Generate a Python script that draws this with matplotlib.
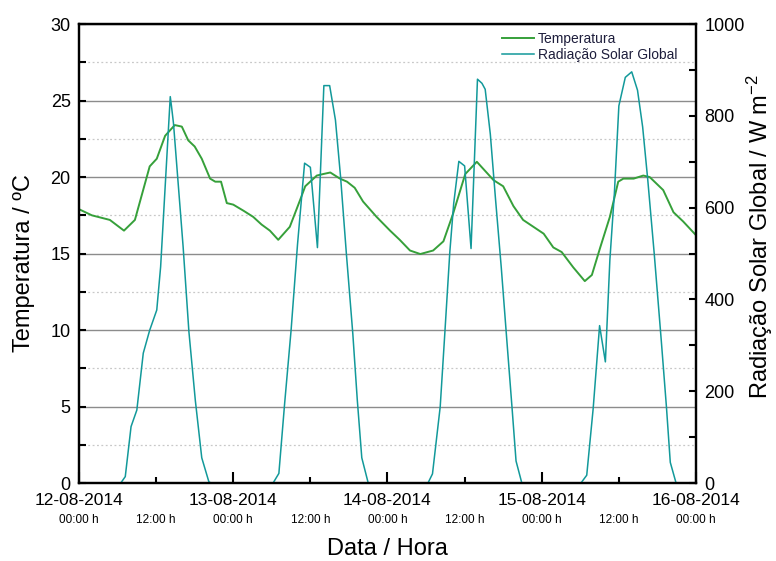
import matplotlib
matplotlib.use("Agg")
import matplotlib.pyplot as plt
from matplotlib.ticker import MultipleLocator

plt.rcParams['font.family'] = ['Liberation Sans', 'DejaVu Sans']
plt.rcParams['mathtext.default'] = 'regular'

# hours since 12-08-2014 00:00
temp_hours = [0, 2.0, 4.8, 7.0, 8.7, 11.0, 12.1, 13.4, 14.9, 16.0, 17.0, 18.0, 19.1, 20.4,
              21.2, 22.1, 23.0, 24.0, 25.6, 27.1, 28.4, 29.7, 31.0, 32.8, 34.4, 35.2, 37.0,
              38.0, 39.1, 40.6, 41.7, 42.9, 44.2, 46.3, 48.4, 49.9, 51.5, 53.1, 55.1, 56.7,
              58.2, 60.1, 61.9, 64.5, 66.0, 67.6, 69.1, 72.3, 73.8, 75.1, 76.9, 78.7, 79.8,
              81.1, 82.6, 83.9, 84.7, 86.3, 87.8, 88.8, 90.9, 92.5, 94.0, 96.0]
temperatura = [17.9, 17.5, 17.2, 16.5, 17.2, 20.7, 21.2, 22.7, 23.4, 23.3, 22.4, 22.0, 21.2, 19.9,
               19.7, 19.7, 18.3, 18.2, 17.8, 17.4, 16.9, 16.5, 15.9, 16.75, 18.5, 19.4, 20.1,
               20.2, 20.3, 19.9, 19.7, 19.3, 18.4, 17.4, 16.5, 15.9, 15.2, 14.97, 15.2, 15.8,
               17.6, 20.2, 21.0, 19.8, 19.4, 18.1, 17.2, 16.3, 15.4, 15.1, 14.1, 13.2, 13.6,
               15.4, 17.4, 19.7, 19.9, 19.9, 20.1, 20.0, 19.15, 17.7, 17.1, 16.2]

rad_hours = [0, 6.5, 7.2, 8.1, 9.0, 10.0, 11.0, 12.1, 12.7, 14.2, 14.4, 14.7, 16.2, 17.1, 18.1,
             19.1, 20.2, 20.5,
             30.2, 31.1, 32.0, 33.0, 34.0, 35.1, 36.0, 37.1, 38.1, 39.0, 39.9, 40.7, 41.6,
             42.6, 43.3, 44.0, 45.0,
             54.3, 55.0, 56.2, 56.9, 57.7, 58.3, 59.1, 60.0, 61.0, 62.0, 62.7, 63.2, 64.0,
             64.8, 65.7, 66.6, 67.4, 68.0, 68.9,
             78.1, 79.0, 80.0, 81.0, 81.9, 82.6, 83.3, 84.0, 85.0, 86.0, 86.9, 87.7, 88.5,
             89.5, 90.6, 91.4, 92.0, 92.9, 96.0]
radiacao = [0, 0, 14, 123, 159, 283, 333, 377, 471, 842, 820, 784, 515, 330, 180,
            55, 3, 0,
            0, 21, 174, 333, 520, 697, 688, 513, 866, 866, 791, 667, 500,
            326, 181, 55, 0,
            0, 20, 166, 322, 504, 609, 701, 691, 511, 880, 871, 858, 760,
            620, 470, 305, 160, 48, 0,
            0, 17, 162, 343, 264, 486, 631, 822, 884, 896, 856, 776, 660,
            500, 310, 166, 45, 0, 0]

tick_major = [0, 24, 48, 72, 96]
date_labels = ['12-08-2014', '13-08-2014', '14-08-2014', '15-08-2014', '16-08-2014']
tick_minor = [12, 36, 60, 84]

fig, ax = plt.subplots(figsize=(7.76, 5.61), dpi=100)
fig.subplots_adjust(left=0.1018, right=0.8969, bottom=0.139, top=0.957)
ax2 = ax.twinx()

l1, = ax.plot(temp_hours, temperatura, color='#36a03a', lw=1.4, label='Temperatura')
l2, = ax2.plot(rad_hours, radiacao, color='#12999a', lw=1.1, label='Radiação Solar Global')

ax.set_xlim(0, 96)
ax.set_ylim(0, 30)
ax2.set_ylim(0, 1000)

ax.yaxis.set_major_locator(MultipleLocator(5))
ax.yaxis.set_minor_locator(MultipleLocator(2.5))
ax2.yaxis.set_major_locator(MultipleLocator(200))
ax2.yaxis.set_minor_locator(MultipleLocator(100))

ax.grid(which='major', axis='y', color='#8c8c8c', lw=1.0)
ax.grid(which='minor', axis='y', color='#c8c8c8', lw=0.9, ls=(0, (1.5, 2)))
ax.set_axisbelow(True)

# x ticks: dates at 00:00, "12:00 h" at noon
ax.set_xticks(tick_major)
ax.set_xticklabels(date_labels, fontsize=12.5)
ax.set_xticks(tick_minor, minor=True)
ax.set_xticklabels(['12:00 h'] * len(tick_minor), minor=True, fontsize=8.5)

# second row under the dates: "00:00 h"
sec = ax.secondary_xaxis('bottom')
sec.set_xticks(tick_major)
sec.set_xticklabels(['00:00 h'] * len(tick_major), fontsize=8.5)
sec.tick_params(length=0, pad=22)
sec.spines['bottom'].set_visible(False)

ax.tick_params(axis='x', which='major', direction='in', length=8, width=1.5, pad=7)
ax.tick_params(axis='x', which='minor', direction='in', length=4, width=1.5, pad=22)
ax.tick_params(axis='y', which='both', direction='in', length=5, width=1.5, labelsize=13, pad=6)
ax2.tick_params(axis='y', which='both', direction='in', length=5, width=1.5, labelsize=13, pad=6)
ax.tick_params(axis='y', which='minor', labelleft=False)
ax2.tick_params(axis='y', which='minor', labelright=False)

for a in (ax, ax2):
    for s in a.spines.values():
        s.set_linewidth(1.6)
        s.set_color('black')

ax.set_xlabel('Data / Hora', fontsize=17, labelpad=9)
ax.set_ylabel('Temperatura / ºC', fontsize=17)
ax.yaxis.set_label_coords(-0.071, 0.479)
ax2.set_ylabel('Radiação Solar Global / W m$^{-2}$', fontsize=17)
ax2.yaxis.set_label_coords(1.079, 0.538)

leg = ax2.legend(handles=[l1, l2], loc='upper right', bbox_to_anchor=(0.985, 1.005), frameon=False,
                 fontsize=10, handlelength=2.3, handletextpad=0.25, labelspacing=0.2,
                 borderaxespad=0.3)
for t in leg.get_texts():
    t.set_color('#1e1e3c')

fig.savefig('out.png', dpi=100)
